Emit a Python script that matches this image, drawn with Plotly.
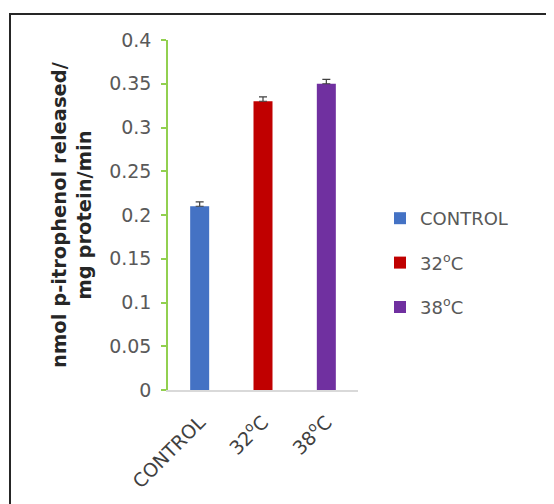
import plotly.graph_objects as go

categories = ["CONTROL", "32<sup>o</sup>C", "38<sup>o</sup>C"]
values = [0.21, 0.33, 0.35]
errors = [0.005, 0.005, 0.005]
colors = ["#4472C4", "#C00000", "#7030A0"]
y_ticks = [0, 0.05, 0.1, 0.15, 0.2, 0.25, 0.3, 0.35, 0.4]
y_tick_labels = ["0", "0.05", "0.1", "0.15", "0.2", "0.25", "0.3", "0.35", "0.4"]

W, H = 554, 504
OFF = 8  # page body margin offset
L, R, T, B = 168 - OFF, 554 - (358 - OFF), 40 - OFF, 504 - (390 - OFF)
pw, ph = W - L - R, H - T - B

def px_x(p):
    return (p - OFF - L) / pw

def px_y(p):
    return 1 - (p - OFF - T) / ph

FONT = "DejaVu Sans"

fig = go.Figure()
for cat, val, err, col in zip(categories, values, errors, colors):
    fig.add_trace(go.Bar(
        x=[cat], y=[val], name=cat, legendgroup=cat,
        marker=dict(color=col, line=dict(width=0)),
        width=0.3,
        error_y=dict(type="data", array=[err], arrayminus=[0], symmetric=False,
                     color="#404040", thickness=1.2, width=4),
    ))

fig.update_layout(
    width=W, height=H,
    margin=dict(l=L, r=R, t=T, b=B),
    paper_bgcolor="white", plot_bgcolor="white",
    barmode="overlay",
    font=dict(family=FONT, color="#595959"),
    showlegend=True,
    legend=dict(x=px_x(380), y=px_y(200), xanchor="left", yanchor="top",
                font=dict(size=18, color="#595959", family=FONT),
                tracegroupgap=18, itemwidth=30, bgcolor="rgba(0,0,0,0)"),
    xaxis=dict(showline=True, linecolor="#D9D9D9", linewidth=1.5,
               tickangle=-45, tickfont=dict(size=19, color="#404040", family=FONT),
               ticks="", showgrid=False, zeroline=False, ticklabelstandoff=12),
    yaxis=dict(range=[0, 0.4], tickvals=y_ticks, ticktext=y_tick_labels,
               showline=True, linecolor="#92D050", linewidth=1.5,
               ticks="outside", tickcolor="#92D050", ticklen=5, tickwidth=1.5,
               tickfont=dict(size=19, color="#595959", family=FONT),
               ticklabelstandoff=6,
               showgrid=False, zeroline=False,
               title=dict(text="<b>nmol p-itrophenol released/<br>mg protein/min</b>",
                          font=dict(size=19.5, color="#262626", family=FONT),
                          standoff=12)),
    shapes=[dict(type="rect", xref="paper", yref="paper",
                 x0=px_x(10), x1=px_x(W + 30), y0=px_y(H + 30), y1=px_y(14),
                 line=dict(color="#262626", width=2), fillcolor="rgba(0,0,0,0)",
                 layer="below")],
)

fig.write_html("out.html")
